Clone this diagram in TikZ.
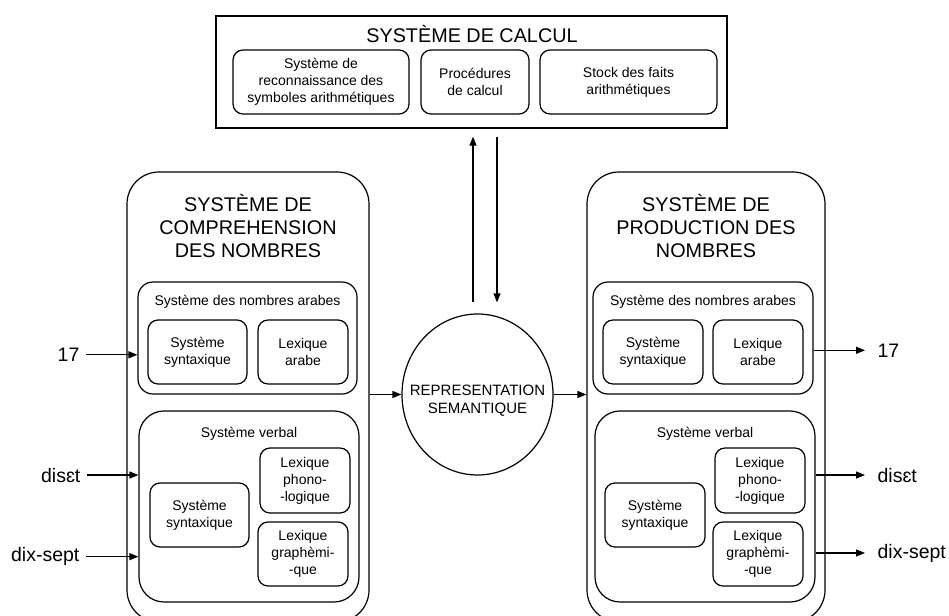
\documentclass[tikz,border=0pt]{standalone}
\usepackage{fontspec}
\setmainfont{Liberation Sans}
\usetikzlibrary{arrows.meta,shapes.geometric}

\begin{document}
\begin{tikzpicture}
  [x=1pt, y=-1pt, line width=1.2pt,
   every node/.style={inner sep=0pt, align=center},
   titre/.style={font=\fontsize{19.8}{23}\selectfont},
   petit/.style={font=\fontsize{14}{17}\selectfont},
   boite/.style={draw, rounded corners=10pt, petit, minimum height=64pt},
   sousbloc/.style={draw, rounded corners=15pt},
   grande/.style={draw, rounded corners=32pt, minimum height=450pt},
   fleche/.style={-{Triangle[length=9pt,width=7pt]}},
   entree/.style={font=\fontsize{19.5}{23}\selectfont, inner xsep=6pt, anchor=base east},
   sortie/.style={font=\fontsize{19.5}{23}\selectfont, inner xsep=12pt, anchor=base west}]
  \useasboundingbox (0,0) rectangle (949,615);
  \clip (0,0) rectangle (949,615);

  % systeme de calcul
  \node[draw, line width=1.4pt, minimum width=511pt, minimum height=112pt] (calcul) at (471.5,72) {};
  \node[titre] (tcalcul) at (472,34) {SYSTÈME DE CALCUL};
  \node[boite, minimum width=176pt] (reco) at (321,82) {Système de\\reconnaissance des\\symboles arithmétiques};
  \node[boite, minimum width=108pt] (proc) at (475,82) {Procédures\\de calcul};
  \node[boite, minimum width=177pt] (stock) at (628.5,82) {Stock des faits\\arithmétiques};

  % comprehension
  \node[grande, minimum width=242pt] (comp) at (248,397) {};
  \node[titre] (tcomp) at (248,226) {SYSTÈME DE\\COMPREHENSION\\DES NOMBRES};
  \node[sousbloc, minimum width=219pt, minimum height=112pt] (arL) at (247.5,338) {};
  \node[petit] (tarL) at (247.5,302) {Système des nombres arabes};
  \node[boite, minimum width=99pt] (synL) at (197.5,352) {Système\\syntaxique};
  \node[boite, minimum width=90pt] (lexaL) at (303,352) {Lexique\\arabe};
  \node[sousbloc, rounded corners=25pt, minimum width=220pt, minimum height=191pt] (verbL) at (249,506.5) {};
  \node[petit] (tverbL) at (249,434) {Système verbal};
  \node[boite, minimum width=99pt] (synvL) at (199.5,515) {Système\\syntaxique};
  \node[boite, minimum width=90pt, minimum height=65pt] (phonL) at (305,480.5) {Lexique\\phono-\\-logique};
  \node[boite, minimum width=90pt] (graphL) at (303,554) {Lexique\\graphèmi-\\-que};

  % production
  \node[grande, minimum width=238pt] (prod) at (706,397) {};
  \node[titre] (tprod) at (706,226) {SYSTÈME DE\\PRODUCTION DES\\NOMBRES};
  \node[sousbloc, minimum width=220pt, minimum height=112pt] (arR) at (703,338) {};
  \node[petit] (tarR) at (703,302) {Système des nombres arabes};
  \node[boite, minimum width=100pt] (synR) at (653,352) {Système\\syntaxique};
  \node[boite, minimum width=90pt] (lexaR) at (758,352) {Lexique\\arabe};
  \node[sousbloc, rounded corners=25pt, minimum width=220pt, minimum height=191pt] (verbR) at (705,506.5) {};
  \node[petit] (tverbR) at (705,434) {Système verbal};
  \node[boite, minimum width=100pt] (synvR) at (655,515) {Système\\syntaxique};
  \node[boite, minimum width=90pt, minimum height=65pt] (phonR) at (760,480.5) {Lexique\\phono-\\-logique};
  \node[boite, minimum width=90pt] (graphR) at (758,554) {Lexique\\graphèmi-\\-que};

  % representation semantique
  \node[draw, ellipse, minimum width=151pt, minimum height=161pt] (sem) at (477.5,394.5) {};
  \node[font=\fontsize{15}{18}\selectfont] (tsem) at (477.5,401) {REPRESENTATION\\SEMANTIQUE};

  % entrees et sorties
  \node[entree] (e17) at (86,361.5) {17};
  \node[entree] (ephon) at (87,482) {disɛt};
  \node[entree] (egraph) at (86,561.7) {dix-sept};
  \node[sortie] (s17) at (865,357) {17};
  \node[sortie] (sphon) at (865,482) {disɛt};
  \node[sortie] (sgraph) at (865,558) {dix-sept};

  \draw[fleche] (e17.east) -- (e17.east -| arL.west);
  \draw[fleche] (ephon.east) -- (ephon.east -| verbL.west);
  \draw[fleche] (egraph.east) -- (egraph.east -| verbL.west);
  \draw[fleche] (s17.west -| arR.east) -- (s17.west);
  \draw[fleche] (sphon.west -| verbR.east) -- (sphon.west);
  \draw[fleche] (sgraph.west -| verbR.east) -- (sgraph.west);

  \draw[fleche] (sem.west -| comp.east) -- (sem.west);
  \draw[fleche] (sem.east) -- (sem.east -| prod.west);
  \draw[fleche, shorten <=11pt, shorten >=8pt] ([xshift=-4.5pt]sem.north) -- ([xshift=-4.5pt]sem.north |- calcul.south);
  \draw[fleche, shorten <=8pt, shorten >=11pt] ([xshift=19.5pt]sem.north |- calcul.south) -- ([xshift=19.5pt]sem.north);
\end{tikzpicture}
\end{document}
